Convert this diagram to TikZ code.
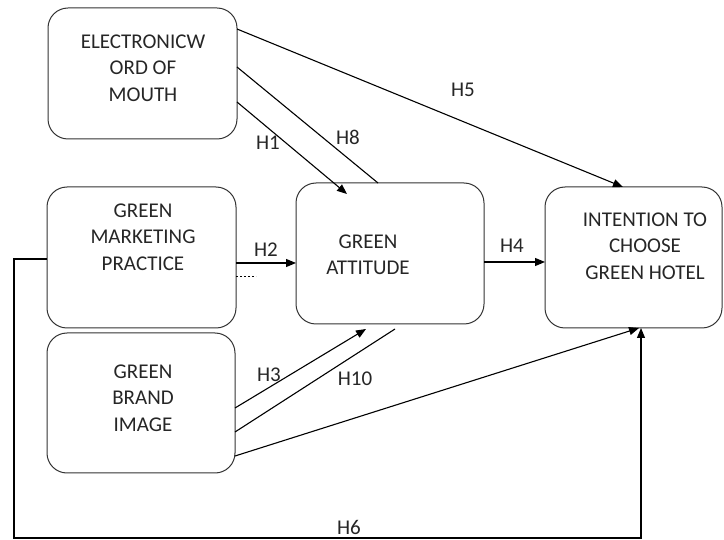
\documentclass[tikz,border=0pt]{standalone}
\usepackage{fontspec}
\setmainfont{Carlito}
\usetikzlibrary{arrows.meta,calc}
\begin{document}
\begin{tikzpicture}[x=1pt,y=-1pt,
  box/.style={draw=black!80,line width=1pt,rounded corners=20pt,inner sep=0pt,outer sep=0pt},
  txt/.style={align=center,font=\fontsize{21}{26.5}\selectfont,text=black!85,inner sep=0pt},
  lbl/.style={font=\fontsize{21}{24}\selectfont,text=black!85,inner sep=0pt},
  conn/.style={line width=1.1pt,black},
  arr/.style={conn,-{Triangle[length=10pt,width=8pt]}}]
\useasboundingbox (0,0) rectangle (724,540);
% boxes
\node[box,minimum width=189pt,minimum height=131pt] (ewom) at (142.5,73.5) {};
\node[box,minimum width=189pt,minimum height=141pt] (gmp) at (141.5,257.5) {};
\node[box,minimum width=188pt,minimum height=140pt] (gbi) at (141,403) {};
\node[box,minimum width=188pt,minimum height=141pt] (ga) at (390,253.5) {};
\node[box,minimum width=177pt,minimum height=141pt] (itc) at (633.5,257.5) {};
% texts
\node[txt] (tewom) at (143,68) {ELECTRONICW\\ORD OF\\MOUTH};
\node[txt] (tgmp) at (143,237) {GREEN\\MARKETING\\PRACTICE};
\node[txt] (tgbi) at (143,398) {GREEN\\BRAND\\IMAGE};
\node[txt] (tga) at (368,255) {GREEN\\ATTITUDE};
\node[txt] (titc) at (645,246) {INTENTION TO\\CHOOSE\\GREEN HOTEL};
% coordinates
\coordinate (h1end) at (347,194);
\coordinate (h3end) at (366,329);
\coordinate (h10end) at (395,329);
\coordinate (c1) at (14,259);
\coordinate (c2) at (14,538);
\coordinate (c3) at (641,538);
% connectors
\draw[arr] (ewom.east |- 0,29) -- (itc.north -| 623,0);
\draw[conn] (ewom.east |- 0,67) -- (ga.north -| 378,0);
\draw[arr] (ewom.east |- 0,102) -- (h1end);
\draw[arr] (gmp.east |- 0,263) -- (ga.west |- 0,263);
\draw[conn,line width=0.9pt,dash pattern=on 2pt off 2pt] (gmp.east |- 0,276) -- ++(20,0);
\draw[arr] (ga.east |- 0,262) -- (itc.west |- 0,262);
\draw[arr] (gbi.east |- 0,408) -- (h3end);
\draw[conn] (gbi.east |- 0,432) -- (h10end);
\draw[arr] (gbi.east |- 0,456) -- (itc.south -| 639,0);
\draw[arr] (gmp.west |- 0,259) -- (c1) -- (c2) -- (c3) -- (itc.south -| 641,0);
% labels
\node[lbl] (l1) at (268,143) {H1};
\node[lbl] (l8) at (348,137) {H8};
\node[lbl] (l2) at (266,250) {H2};
\node[lbl] (l4) at (512,246) {H4};
\node[lbl] (l5) at (463,90) {H5};
\node[lbl] (l3) at (269,375) {H3};
\node[lbl] (l10) at (355,379) {H10};
\node[lbl] (l6) at (349,527) {H6};
\end{tikzpicture}
\end{document}
